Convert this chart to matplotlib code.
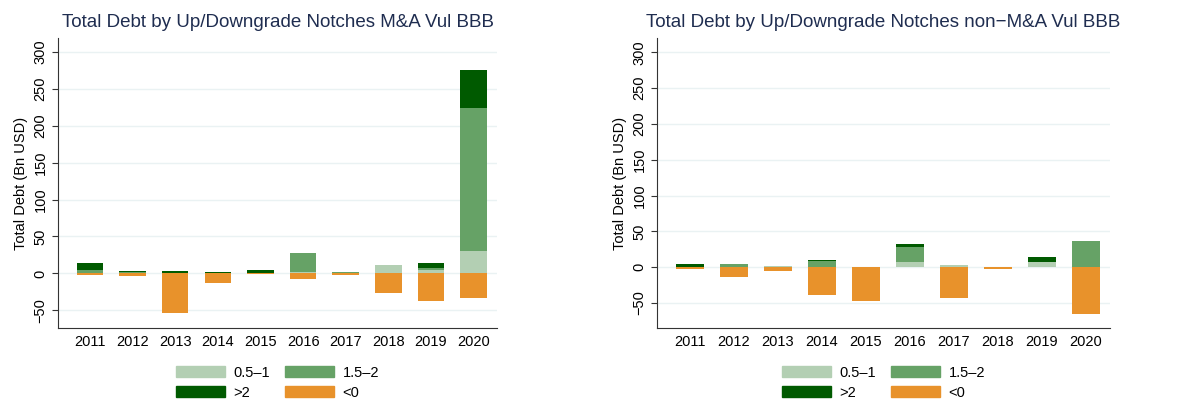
import matplotlib
matplotlib.use("Agg")
import matplotlib.pyplot as plt
import numpy as np
from matplotlib.patches import Patch

plt.rcParams['font.family'] = ['Liberation Sans', 'DejaVu Sans']

years = [2011, 2012, 2013, 2014, 2015, 2016, 2017, 2018, 2019, 2020]
series_names = ['0.5\u20131', '1.5\u20132', '>2', '<0']
colors = ['#b3cfb3', '#66a266', '#005a00', '#e8922b']

# M&A vulnerable BBB
ma_05_1 = [1, 0, 0, 0, 0, 2, 0, 11, 5, 30]
ma_15_2 = [3, 1.5, 0.5, 0.5, 1, 25, 2, 0, 2, 194]
ma_gt2 = [10, 1.5, 3, 1.5, 4, 0, 0, 0, 7, 51]
ma_neg = [-2.5, -4, -54, -13, -1, -7, -2.5, -27, -38, -34]

# non-M&A vulnerable BBB
non_05_1 = [0, 0, 1.5, 0, 0, 7, 3, 0, 7, 0]
non_15_2 = [0, 4, 0, 8, 0, 21, 0, 0, 0, 36]
non_gt2 = [4, 0, 0, 2, 0, 4, 0, 0, 7, 0]
non_neg = [-3, -14, -6, -39, -47, 0, -43, -3, 0, -66]

panels = [
    ("Total Debt by Up/Downgrade Notches M&A Vul BBB",
     [ma_05_1, ma_15_2, ma_gt2, ma_neg], (-74, 319), [0.049, 0.18, 0.370, 0.725]),
    ("Total Debt by Up/Downgrade Notches non\u2212M&A Vul BBB",
     [non_05_1, non_15_2, non_gt2, non_neg], (-85, 320), [0.554, 0.18, 0.382, 0.725]),
]

fig = plt.figure(figsize=(11.86, 4), dpi=100)
x = np.arange(len(years))

for title, data, ylim, pos in panels:
    ax = fig.add_axes(pos)
    bottom = np.zeros(len(years))
    for vals, c in zip(data[:3], colors[:3]):
        ax.bar(x, vals, bottom=bottom, width=0.62, color=c, zorder=2)
        bottom += np.array(vals)
    ax.bar(x, data[3], width=0.62, color=colors[3], zorder=2)

    ax.set_ylim(*ylim)
    ax.set_xlim(-0.75, len(years) - 0.45)
    ax.set_yticks(range(-50, 301, 50))
    ax.tick_params(axis='y', labelrotation=90, labelsize=10.5, length=4, color='#333333')
    for lbl in ax.get_yticklabels():
        lbl.set_va('center')
    ax.set_xticks(x)
    ax.set_xticklabels(years, fontsize=10.5)
    ax.tick_params(axis='x', length=0, pad=5)
    ax.grid(axis='y', color='#eaf2f3', linewidth=1, zorder=0)
    ax.spines['top'].set_visible(False)
    ax.spines['right'].set_visible(False)
    ax.spines['left'].set_color('#333333')
    ax.spines['bottom'].set_color('#333333')
    ax.set_ylabel('Total Debt (Bn USD)', fontsize=10.5)
    ax.set_title(title, fontsize=13.5, color='#1f2d50', pad=8)

    # legend fills column-wise: order so rows read 0.5-1, 1.5-2 / >2, <0
    order = [0, 2, 1, 3]
    handles = [Patch(color=colors[i]) for i in order]
    labels = [series_names[i] for i in order]
    ax.legend(handles, labels, ncol=2, loc='upper center',
              bbox_to_anchor=(0.5, -0.095), frameon=False, fontsize=10.5,
              handlelength=3.35, handleheight=0.75, columnspacing=1.0,
              handletextpad=0.6, labelspacing=0.4, borderpad=0.2)

fig.savefig('out.png', dpi=100, facecolor='white')
